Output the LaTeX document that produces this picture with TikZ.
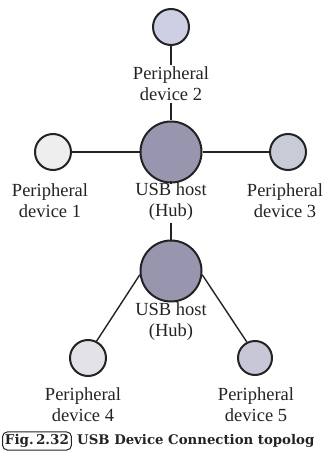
\documentclass[tikz,border=0pt]{standalone}
\usepackage{fontspec}
\setmainfont{Liberation Serif}
\newfontfamily\capfont{DejaVu Serif}
\usetikzlibrary{positioning}

\definecolor{hubgray}{RGB}{152,150,174}
\definecolor{devA}{RGB}{238,238,238}
\definecolor{devB}{RGB}{206,206,228}
\definecolor{devC}{RGB}{201,204,214}
\definecolor{devD}{RGB}{226,226,231}
\definecolor{devE}{RGB}{199,199,216}
\definecolor{ink}{RGB}{35,35,35}

\begin{document}
\begin{tikzpicture}[x=1pt,y=-1pt,
    dev/.style={circle,draw=ink,line width=2pt,minimum size=36pt,inner sep=0pt},
    hub/.style={circle,draw=ink,line width=2pt,minimum size=61pt,inner sep=0pt,fill=hubgray},
    lbl/.style={align=center,text=ink,inner sep=1.5pt,
      font=\fontsize{18.5}{21}\selectfont},
    wire/.style={draw=ink,line width=1.4pt}]
  \useasboundingbox (0,0) rectangle (327,465);

  % first hub with three devices
  \node[hub] (hubA) at (171,152) {};
  \node[dev,fill=devB] (devtwo) at (171,27) {};
  \node[dev,fill=devA] (devone) at (53,152) {};
  \node[dev,fill=devC] (devthree) at (288,152) {};
  \node[lbl] (lbltwo) at (171,84) {Peripheral\\device 2};
  \node[lbl] (lblone) at (50,201) {Peripheral\\device 1};
  \node[lbl] (lblA) at (171,202) {USB host\\(Hub)};
  \node[lbl] (lblthree) at (285,201) {Peripheral\\device 3};

  % second hub with two devices
  \node[hub] (hubB) at (171,271) {};
  \node[dev,fill=devD] (devfour) at (88,358) {};
  \node[dev,fill=devE,minimum size=34pt] (devfive) at (255,358) {};
  \node[lbl] (lblB) at (171,322) {USB host\\(Hub)};
  \node[lbl] (lblfour) at (83,405) {Peripheral\\device 4};
  \node[lbl] (lblfive) at (256,405) {Peripheral\\device 5};

  \draw[wire] (devtwo) -- (lbltwo);
  \draw[wire] (lbltwo) -- (hubA);
  \draw[wire] (devone) -- (hubA);
  \draw[wire] (hubA) -- (devthree);
  \draw[wire] (hubA) -- (lblA);
  \draw[wire] (lblA) -- (hubB);
  \draw[wire] (hubB.187) -- (devfour.63);
  \draw[wire] (hubB.-7) -- (devfive.117);

  % caption
  \node[draw=ink,line width=1pt,rounded corners=5pt,inner sep=2.5pt,
    font=\capfont\bfseries\fontsize{13.5}{16}\selectfont,text=ink,
    anchor=west] (figtag) at (2,441) {Fig.\,2.32};
  \node[right=5pt of figtag,inner sep=0pt,text=ink,
    font=\capfont\bfseries\fontsize{13.3}{16}\selectfont] (captext)
    {USB Device Connection topolog};
\end{tikzpicture}
\end{document}
